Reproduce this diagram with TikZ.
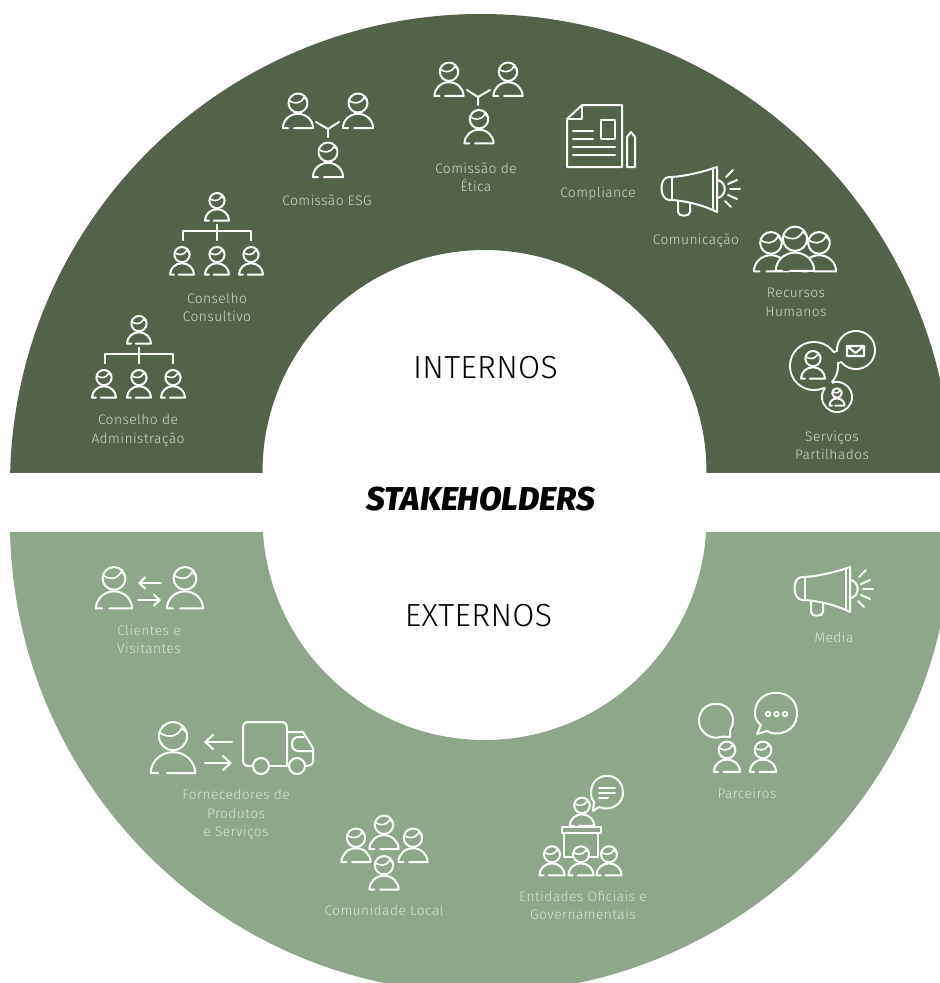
\documentclass[tikz,border=0pt]{standalone}
\usepackage{fontspec}
\usetikzlibrary{arrows.meta}
\newfontfamily\lab[LetterSpace=3]{Fira Sans Light}
\newfontfamily\bigf[LetterSpace=1]{Fira Sans Light}
\newfontfamily\blk{Fira Sans ExtraBold Italic}
\definecolor{dk}{HTML}{52634A}
\definecolor{lt}{HTML}{8EA78A}
\definecolor{txd}{HTML}{D5DBD1}
\definecolor{txl}{HTML}{DDE5DA}
\tikzset{
 ic/.style={draw=white,line width=2pt,line cap=round,line join=round},
 arr/.style={ic,-{Straight Barb[length=6pt,width=12pt,line width=2pt]}},
 arrb/.style={ic,-{Straight Barb[length=8pt,width=15pt,line width=2pt]}},
 labd/.style={text=txd,font=\lab\fontsize{13.8}{18.4}\selectfont,align=center,inner sep=0pt},
 labl/.style={text=txl,font=\lab\fontsize{13.8}{18.4}\selectfont,align=center,inner sep=0pt},
 headg/.style={text=black,font=\bigf\fontsize{32}{34}\selectfont,inner sep=0pt},
}
\newcommand\person[3]{\begin{scope}[shift={(#1,#2)},scale=#3]
 \path[ic] (0,-8) circle (9.5);
 \path[ic,line width=1.6pt] (-9.2,-10.5) .. controls (-5,-7.5) and (2,-6) .. (6,-13.5) -- (9.4,-10);
 \path[ic] (-10,17) -- (-15,17) .. controls (-15,9) and (-8.2,2.8) .. (0,2.8) .. controls (8.2,2.8) and (15,9) .. (15,17) -- (-4,17);
\end{scope}}
\newcommand\personF[4]{\begin{scope}[shift={(#1,#2)},scale=#3]
 \fill[#4] (0,-8) circle (9.5);
 \fill[#4] (-15,17) .. controls (-15,9) and (-8.2,2.8) .. (0,2.8) .. controls (8.2,2.8) and (15,9) .. (15,17) -- cycle;
\end{scope}\person{#1}{#2}{#3}}
\newcommand\mega[2]{\begin{scope}[shift={(#1,#2)}]
 \path[ic] (672,177) .. controls (686,176) and (703,172) .. (717,167) -- (717,212) .. controls (703,205) and (686,201) .. (672,200) -- (669,200) .. controls (659,199) and (659,177) .. (669,177) -- cycle;
 \path[ic] (672,177) -- (672,200);
 \path[ic] (713,169) -- (713,210);
 \path[ic] (678,202) -- (678,212) .. controls (678,217) and (690,217) .. (690,212) -- (690,204);
 \path[ic] (718,180) .. controls (727,183) and (727,195) .. (718,198);
 \path[ic] (726,177) -- (733,170);
 \path[ic] (728,184) -- (737,180);
 \path[ic] (730,189) -- (740,189);
 \path[ic] (728,195) -- (737,199);
 \path[ic] (725,201) -- (731,207);
\end{scope}}
\newcommand\orgtree[2]{\begin{scope}[shift={(#1,#2)}]
 \person{0}{0}{.8}
 \path[ic,line cap=butt] (-34,34) -- (-34,24) -- (34,24) -- (34,34);
 \path[ic,line cap=butt] (0,17) -- (0,34);
 \person{-35}{54}{.8}
 \person{0}{54}{.8}
 \person{34}{54}{.8}
\end{scope}}
\begin{document}
\begin{tikzpicture}[x=1pt,y=-1pt]
\useasboundingbox (0,0) rectangle (940,983);
\begin{scope}
 \clip (0,0) rectangle (940,472);
 \fill[dk,even odd rule] (481,485) circle (471) (484.5,472) circle (222);
\end{scope}
\begin{scope}
 \clip (0,532) rectangle (940,983);
 \fill[lt,even odd rule] (481,522) circle (471) (484.5,518) circle (222);
\end{scope}
% headings
\node[headg] (int) at (485.5,367.5) {INTERNOS};
\node[headg] (ext) at (478.5,615.5) {EXTERNOS};
\node[text=black,font=\blk\fontsize{33}{36}\selectfont,inner sep=0pt] (stk) at (481,499.5) {STAKEHOLDERS};
% top icons
\orgtree{139}{330}
\orgtree{217}{207}
\person{298}{111}{1}
\person{358}{111}{1}
\person{328}{160}{1}
\path[ic] (316,122) -- (328,129) -- (339,122) (328,129) -- (328,137);
\person{449}{79.5}{.97}
\person{508}{79.5}{.97}
\person{479}{127}{.97}
\path[ic] (467,90) -- (478,97) -- (490,90) (478,97) -- (478,105);
% compliance
\path[ic] (582,105) -- (622,105) -- (622,167) -- (567,167) -- (567,119) -- cycle;
\path[ic] (582,105) -- (582,119) -- (567,119);
\path[ic] (601,120) rectangle (615,139);
\path[ic] (573,131) -- (593,131) (573,139) -- (593,139) (573,147) -- (615,147) (573,155) -- (615,155);
\path[ic] (627,137) -- (631,132) -- (635,137) -- (635,167) -- (627,167) -- cycle;
\mega{0}{0}
% RH
\personF{771}{252}{1.14}{dk}
\personF{819}{252}{1.14}{dk}
\personF{795}{249}{1.28}{dk}
% Servicos
\begin{scope}
 \path[draw=white,line width=4pt] (814,366) circle (23) (856,350) circle (18) (837,397) circle (14)
   (829.3,354.8) -- (839.3,351.2) -- (842.8,360.4) -- (832.8,364) -- cycle (829.2,379.6) -- (834,386) -- (827.6,390.8) -- (822.8,384.4) -- cycle;
 \path[fill=dk] (814,366) circle (23) (856,350) circle (18) (837,397) circle (14)
   (829.3,354.8) -- (839.3,351.2) -- (842.8,360.4) -- (832.8,364) -- cycle (829.2,379.6) -- (834,386) -- (827.6,390.8) -- (822.8,384.4) -- cycle;
\end{scope}
\person{813}{365}{.8}
\path[ic,line width=2.2pt] (847,346) rectangle (864,356) (847,346) -- (855.5,353) -- (864,346);
\person{837}{397}{.5}
% labels top
\node[labd] (l1) at (138,430.5) {Conselho de\\Administração};
\node[labd] (l2) at (217,307.5) {Conselho\\Consultivo};
\node[labd] (l3) at (327,200.5) {Comissão ESG};
\node[labd] (l4) at (476,177.5) {Comissão de\\Ética};
\node[labd] (l5) at (598,193.5) {Compliance};
\node[labd] (l6) at (696,240.5) {Comunicação};
\node[labd] (l7) at (796,302.5) {Recursos\\Humanos};
\node[labd] (l8) at (832,445.5) {Serviços\\Partilhados};
% bottom icons
\person{114}{588}{1.2}
\person{185}{588}{1.2}
\path[arr] (161,583) -- (138,583);
\path[arr] (138,600) -- (161,600);
\person{173}{748}{1.48}
\path[arrb] (232,742) -- (204,742);
\path[arrb] (205,763) -- (232,763);
% truck
\path[ic] (253,766) -- (249,766) .. controls (245,766) and (243,764) .. (243,760) -- (243,728) .. controls (243,724) and (245,722) .. (249,722) -- (281,722) .. controls (285,722) and (287,724) .. (287,728) -- (287,766);
\path[ic] (269,766) -- (289,766);
\path[ic] (287,732) -- (303,732) -- (313,748) -- (313,761) .. controls (313,764) and (311,766) .. (305,766);
\path[ic] (304,737) -- (298,737) .. controls (290,737) and (290,751) .. (298,751) -- (313,751);
\path[ic] (261,766) circle (8) (297,766) circle (8);
% comunidade
\person{384}{832.5}{.97}
\person{356}{845.5}{.97}
\person{413}{845.5}{.97}
\person{384}{873}{.97}
% entidades
\person{582}{812}{.82}
\path[ic] (593,811) -- (599,807) .. controls (612,812) and (623,803) .. (623,793) .. controls (623,770) and (591,770) .. (591,793) .. controls (591,797) and (592,800) .. (594,802) -- cycle;
\path[ic] (599,788) -- (615,788) (599,793) -- (615,793) (599,798) -- (608,798);
\path[ic] (562,827) rectangle (601,833);
\path[ic] (564,833) -- (564,857) -- (598,857) -- (598,833);
\personF{552}{861}{.84}{lt}
\personF{581}{861}{.84}{lt}
\personF{609}{861}{.84}{lt}
% parceiros
\person{727}{757}{.88}
\person{763}{757}{.88}
\path[ic] (730,737) -- (722,736.5) .. controls (711,741) and (699,732) .. (699,721) .. controls (699,698) and (733,698) .. (733,721) .. controls (733,724) and (732,727) .. (730,730) -- cycle;
\path[ic] (757,734) -- (761,725) .. controls (755,720) and (755,716) .. (755,713) .. controls (755,686) and (797,686) .. (797,713) .. controls (797,733) and (776,737) .. (767,731) -- cycle;
\path[ic,line width=1.6pt] (768,714) circle (2.3) (776.5,714) circle (2.3) (785,714) circle (2.3);
\mega{133}{400}
% labels bottom
\node[labl] (l9) at (149,639.5) {Clientes e\\Visitantes};
\node[labl] (l10) at (236,814.5) {Fornecedores de\\Produtos\\e Serviços};
\node[labl] (l11) at (384,910.5) {Comunidade Local};
\node[labl] (l12) at (583,905.5) {Entidades Oficiais e\\Governamentais};
\node[labl] (l13) at (747,793.5) {Parceiros};
\node[labl] (l14) at (834,637.5) {Media};
\end{tikzpicture}
\end{document}
